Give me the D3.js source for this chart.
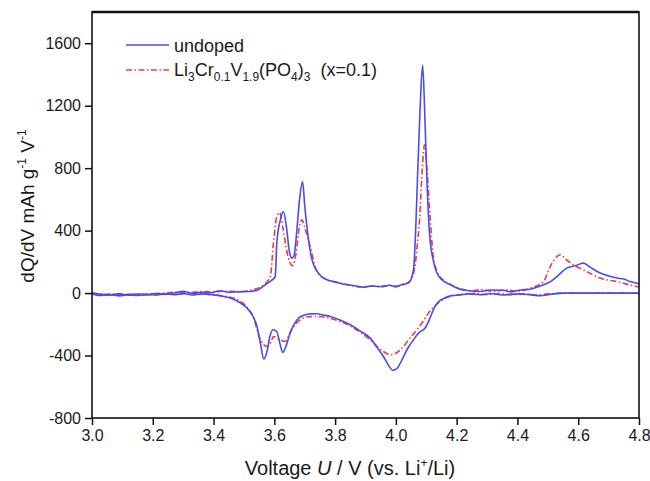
<!DOCTYPE html>
<html>
<head>
<meta charset="utf-8">
<script src="https://cdn.jsdelivr.net/npm/d3@7"></script>
<style>
  body { margin: 0; background: #fff; }
  text { font-family: "Liberation Sans", Arial, sans-serif; fill: #1a1a1a; }
</style>
</head>
<body>
<script>
// dQ/dV curves (V, mAh g-1 V-1)
const undopedCharge = [
  [3.00, 0], [3.03, -8], [3.06, -12], [3.09, -5], [3.12, -14], [3.15, -6], [3.18, -10],
  [3.21, -3], [3.24, -8], [3.27, 0], [3.30, 12], [3.33, 0], [3.36, 5], [3.39, 2],
  [3.42, 15], [3.45, 5], [3.48, 8], [3.52, 10], [3.55, 25], [3.57, 53], [3.59, 80],
  [3.603, 106], [3.608, 320], [3.62, 470], [3.63, 522], [3.64, 420], [3.65, 260],
  [3.658, 224], [3.665, 240], [3.674, 400], [3.683, 600], [3.693, 714], [3.70, 560],
  [3.71, 380], [3.724, 213], [3.745, 128], [3.773, 85], [3.80, 72], [3.839, 53],
  [3.87, 45], [3.893, 38], [3.92, 45], [3.948, 42], [3.98, 50], [4.00, 40], [4.02, 55],
  [4.041, 64], [4.058, 149], [4.065, 400], [4.071, 730], [4.08, 1200], [4.088, 1461],
  [4.095, 1150], [4.102, 730], [4.11, 400], [4.124, 200], [4.135, 130], [4.151, 85],
  [4.178, 55], [4.211, 25], [4.24, 15], [4.277, 10], [4.31, 20], [4.353, 18], [4.38, 8],
  [4.41, 20], [4.441, 25], [4.486, 53], [4.51, 75], [4.53, 106], [4.562, 160], [4.59, 175],
  [4.617, 192], [4.64, 165], [4.672, 128], [4.70, 110], [4.727, 96], [4.75, 90],
  [4.771, 74], [4.80, 60]
]
const undopedDischarge = [
  [3.00, -5], [3.03, -15], [3.06, -10], [3.09, -18], [3.12, -8], [3.15, -15], [3.18, -10],
  [3.21, -12], [3.24, -5], [3.27, -10], [3.30, -3], [3.33, -12], [3.36, -5], [3.395, -10],
  [3.43, -20], [3.46, -35], [3.49, -65], [3.51, -96], [3.53, -150], [3.543, -214],
  [3.555, -330], [3.565, -422], [3.575, -380], [3.585, -280], [3.595, -235], [3.608, -246],
  [3.618, -320], [3.628, -380], [3.64, -330], [3.652, -256], [3.665, -200], [3.68, -160],
  [3.70, -140], [3.72, -133], [3.74, -132], [3.76, -140], [3.784, -150], [3.82, -175],
  [3.85, -203], [3.88, -240], [3.916, -290], [3.935, -340], [3.959, -406], [3.975, -460],
  [3.99, -495], [4.005, -480], [4.02, -427], [4.04, -350], [4.058, -299], [4.075, -255],
  [4.096, -224], [4.11, -170], [4.125, -100], [4.14, -55], [4.157, -35], [4.18, -18],
  [4.211, -12], [4.24, -5], [4.277, -11], [4.31, -3], [4.35, -12], [4.40, -5], [4.44, -10],
  [4.475, -17], [4.51, -8], [4.551, 0], [4.65, 0], [4.80, 0]
]
const dopedCharge = [
  [3.00, -5], [3.04, -10], [3.08, -14], [3.12, -8], [3.16, -12], [3.20, -4], [3.24, 0],
  [3.28, 6], [3.32, 3], [3.36, 10], [3.40, 8], [3.44, 12], [3.48, 10], [3.52, 18],
  [3.55, 35], [3.575, 70], [3.587, 106], [3.597, 320], [3.607, 480], [3.617, 516],
  [3.628, 420], [3.642, 260], [3.66, 175], [3.672, 260], [3.682, 420], [3.691, 469],
  [3.70, 420], [3.718, 298], [3.74, 138], [3.77, 88], [3.80, 70], [3.84, 55], [3.88, 40],
  [3.92, 45], [3.95, 40], [3.98, 48], [4.00, 45], [4.02, 50], [4.045, 75], [4.062, 160],
  [4.07, 300], [4.078, 475], [4.087, 800], [4.094, 949], [4.102, 800], [4.113, 475],
  [4.122, 250], [4.135, 140], [4.155, 85], [4.18, 55], [4.21, 30], [4.25, 15], [4.28, 22],
  [4.32, 10], [4.36, 20], [4.40, 12], [4.44, 30], [4.486, 74], [4.508, 170], [4.541, 245],
  [4.56, 215], [4.585, 181], [4.628, 138], [4.672, 96], [4.727, 74], [4.793, 42], [4.80, 40]
]
const dopedDischarge = [
  [3.00, 0], [3.04, -8], [3.08, -5], [3.12, -12], [3.16, -6], [3.20, -10], [3.24, -4],
  [3.28, -8], [3.32, 0], [3.36, -6], [3.40, -10], [3.43, -18], [3.46, -30], [3.49, -55],
  [3.51, -90], [3.53, -150], [3.554, -299], [3.576, -342], [3.59, -310], [3.597, -278],
  [3.615, -295], [3.636, -310], [3.655, -240], [3.685, -171], [3.71, -152], [3.74, -150],
  [3.78, -160], [3.82, -185], [3.85, -210], [3.88, -248], [3.916, -300], [3.94, -345],
  [3.959, -374], [3.981, -395], [4.00, -385], [4.025, -342], [4.045, -290], [4.069, -235],
  [4.09, -180], [4.11, -120], [4.135, -70], [4.16, -35], [4.19, -15], [4.22, -8], [4.26, -2],
  [4.30, -10], [4.34, -3], [4.38, -10], [4.42, -5], [4.46, -12], [4.50, -5], [4.55, 0],
  [4.65, 0], [4.80, 0]
]

const xTicks = [3.0, 3.2, 3.4, 3.6, 3.8, 4.0, 4.2, 4.4, 4.6, 4.8]
const yTicks = [-800, -400, 0, 400, 800, 1200, 1600]

const W = 650, H = 481
const m = {left: 92, right: 11, top: 12, bottom: 63}

const svg = d3.select("body").append("svg").attr("width", W).attr("height", H)

const x = d3.scaleLinear().domain([3.0, 4.8]).range([m.left, W - m.right])
const y = d3.scaleLinear().domain([-800, 1800]).range([H - m.bottom, m.top])

const blue = "#4b4bf5", red = "#f03c3c"
const dashDot = "6,2.5,1.5,2.5"
const line = d3.line().x(d => x(d[0])).y(d => y(d[1])).curve(d3.curveMonotoneX)

const plot = svg.append("g")
function drawCurve(data, color, dash) {
  plot.append("path")
    .attr("d", line(data))
    .attr("fill", "none")
    .attr("stroke", color)
    .attr("stroke-width", 1.6)
    .attr("stroke-dasharray", dash)
}
drawCurve(dopedCharge, red, dashDot)
drawCurve(dopedDischarge, red, dashDot)
drawCurve(undopedCharge, blue, null)
drawCurve(undopedDischarge, blue, null)

// axes (major + minor ticks)
const xMinor = d3.range(3.1, 4.8, 0.2)
const yMinor = d3.range(-600, 1800, 400)

const gx = svg.append("g").attr("transform", `translate(0,${H - m.bottom})`)
gx.call(d3.axisBottom(x).tickValues(xMinor).tickSize(4).tickFormat(""))
gx.call(d3.axisBottom(x).tickValues(xTicks).tickSize(7).tickPadding(5).tickFormat(d3.format(".1f")))
const gy = svg.append("g").attr("transform", `translate(${m.left},0)`)
gy.call(d3.axisLeft(y).tickValues(yMinor).tickSize(4).tickFormat(""))
gy.call(d3.axisLeft(y).tickValues(yTicks).tickSize(7).tickPadding(4).tickFormat(d => String(d)))

svg.selectAll(".domain").remove()
svg.selectAll(".tick line").attr("stroke", "#111").attr("stroke-width", 1.5)
svg.selectAll(".tick text").style("font-size", "16px").attr("fill", "#1a1a1a")
svg.selectAll(".tick text").style("font-family", "'Liberation Sans', Arial, sans-serif")

// frame
svg.append("rect")
  .attr("x", m.left).attr("y", m.top)
  .attr("width", W - m.left - m.right).attr("height", H - m.top - m.bottom)
  .attr("fill", "none").attr("stroke", "#111").attr("stroke-width", 1.6)
svg.append("line")
  .attr("x1", m.left).attr("x2", W - m.right).attr("y1", m.top).attr("y2", m.top)
  .attr("stroke", "#111").attr("stroke-width", 2.5)

// axis titles
const xt = svg.append("text").attr("x", 350).attr("y", 475).attr("text-anchor", "middle")
  .style("font-size", "20px")
xt.append("tspan").text("Voltage ")
xt.append("tspan").attr("font-style", "italic").text("U")
xt.append("tspan").text(" / V (vs. Li")
xt.append("tspan").attr("dy", -8).style("font-size", "12px").text("+")
xt.append("tspan").attr("dy", 8).text("/Li)")

const yt = svg.append("text").attr("transform", "translate(34,206) rotate(-90)")
  .attr("text-anchor", "middle").style("font-size", "19px")
yt.append("tspan").text("dQ/dV mAh g")
yt.append("tspan").attr("dy", -8).style("font-size", "12px").text("-1")
yt.append("tspan").attr("dy", 8).text(" V")
yt.append("tspan").attr("dy", -8).style("font-size", "12px").text("-1")

// legend
const lg = svg.append("g")
lg.append("line").attr("x1", 126).attr("x2", 169).attr("y1", 45).attr("y2", 45)
  .attr("stroke", blue).attr("stroke-width", 1.6)
lg.append("line").attr("x1", 126).attr("x2", 169).attr("y1", 70).attr("y2", 70)
  .attr("stroke", red).attr("stroke-width", 1.6).attr("stroke-dasharray", dashDot)
lg.append("text").attr("x", 174).attr("y", 52).style("font-size", "18px").text("undoped")
const lt = lg.append("text").attr("x", 174).attr("y", 76).style("font-size", "18px")
  .attr("xml:space", "preserve")
const parts = [["Li"], ["3", 1], ["Cr"], ["0.1", 1], ["V"], ["1.9", 1], ["(PO"], ["4", 1], [")"], ["3", 1], ["  (x=0.1)"]]
let sub = false
parts.forEach(p => {
  const t = lt.append("tspan").text(p[0])
  if (p[1]) t.style("font-size", "12px")
  if (p[1] && !sub) { t.attr("dy", 5); sub = true }
  else if (!p[1] && sub) { t.attr("dy", -5); sub = false }
})
</script>
</body>
</html>
